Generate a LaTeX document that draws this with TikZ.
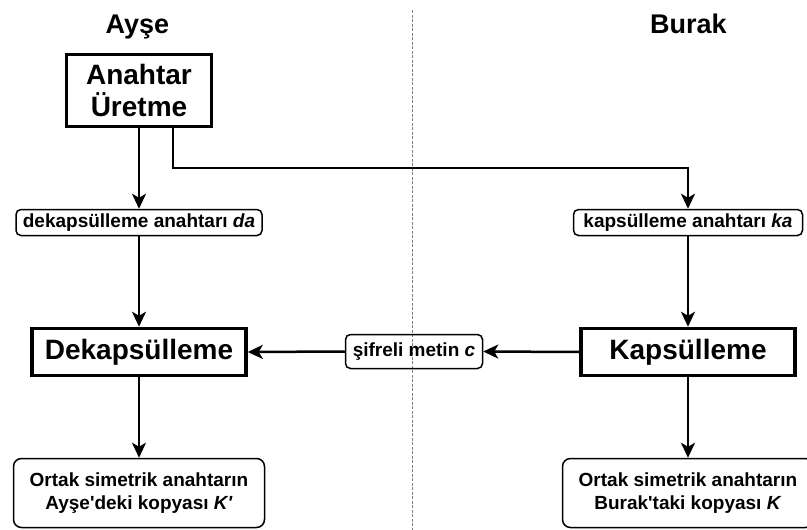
\documentclass[tikz,border=0pt]{standalone}
\usepackage{fontspec}
\setmainfont{Liberation Sans}
\usetikzlibrary{arrows.meta}
\newcommand{\sq}{\textquotesingle}
\begin{document}
\begin{tikzpicture}[x=1pt,y=-1pt,
  bigtext/.style={font=\bfseries\fontsize{28}{32}\selectfont},
  smalltext/.style={font=\bfseries\fontsize{19}{23}\selectfont},
  titletext/.style={font=\bfseries\fontsize{27}{30}\selectfont},
  thickbox/.style={draw, line width=3.5pt, inner sep=0pt, align=center, bigtext},
  softbox/.style={draw, line width=1.5pt, rounded corners=5pt, inner sep=0pt, align=center, smalltext},
  arr/.style={line width=2.5pt, -{Stealth[length=15pt,width=14pt,inset=4pt]}},
  divider/.style={gray, line width=1pt, dash pattern=on 3pt off 1.5pt}
]
\useasboundingbox (0,0) rectangle (807,530);
\clip (0,0) rectangle (807,530);

% divider
\coordinate (dtop) at (412,10);
\coordinate (dbot) at (412,530);
\draw[divider] (dtop) -- (dbot);

% titles
\node[titletext, anchor=base] (ayse) at (137.5,33) {Ayşe};
\node[titletext, anchor=base] (burak) at (688.5,33) {Burak};

% nodes
\node[thickbox, minimum width=145pt, minimum height=72pt] (gen) at (139,90.5) {Anahtar\\Üretme};
\node[softbox, minimum width=246pt, minimum height=26pt] (da) at (139,222.5) {dekapsülleme anahtarı \textit{da}};
\node[softbox, minimum width=229pt, minimum height=26pt] (ka) at (688,222.5) {kapsülleme anahtarı \textit{ka}};
\node[thickbox, minimum width=214pt, minimum height=47pt] (dek) at (139,352) {Dekapsülleme};
\node[thickbox, minimum width=214pt, minimum height=47pt] (kap) at (688,352) {Kapsülleme};
\node[softbox, minimum width=137pt, minimum height=34pt] (sif) at (414,351.5) {şifreli metin \textit{c}};
\node[softbox, rounded corners=8pt, minimum width=251pt, minimum height=69pt] (outA) at (139,493) {Ortak simetrik anahtarın\\Ayşe\sq deki kopyası \textit{K\sq}};
\node[softbox, rounded corners=8pt, minimum width=251pt, minimum height=69pt] (outB) at (688,493) {Ortak simetrik anahtarın\\Burak\sq taki kopyası \textit{K}};

% connectors
\draw[arr] (gen.south) -- (da.north);
\draw[arr] ([xshift=34pt]gen.south) -- ([xshift=34pt]gen.south |- 0,168) -- (ka.north |- 0,168) -- (ka.north);
\draw[arr] (da.south) -- (dek.north);
\draw[arr] (ka.south) -- (kap.north);
\draw[arr] (kap.west) -- (sif.east);
\draw[arr] (sif.west) -- (dek.east);
\draw[arr] (dek.south) -- (outA.north);
\draw[arr] (kap.south) -- (outB.north);
\end{tikzpicture}
\end{document}
